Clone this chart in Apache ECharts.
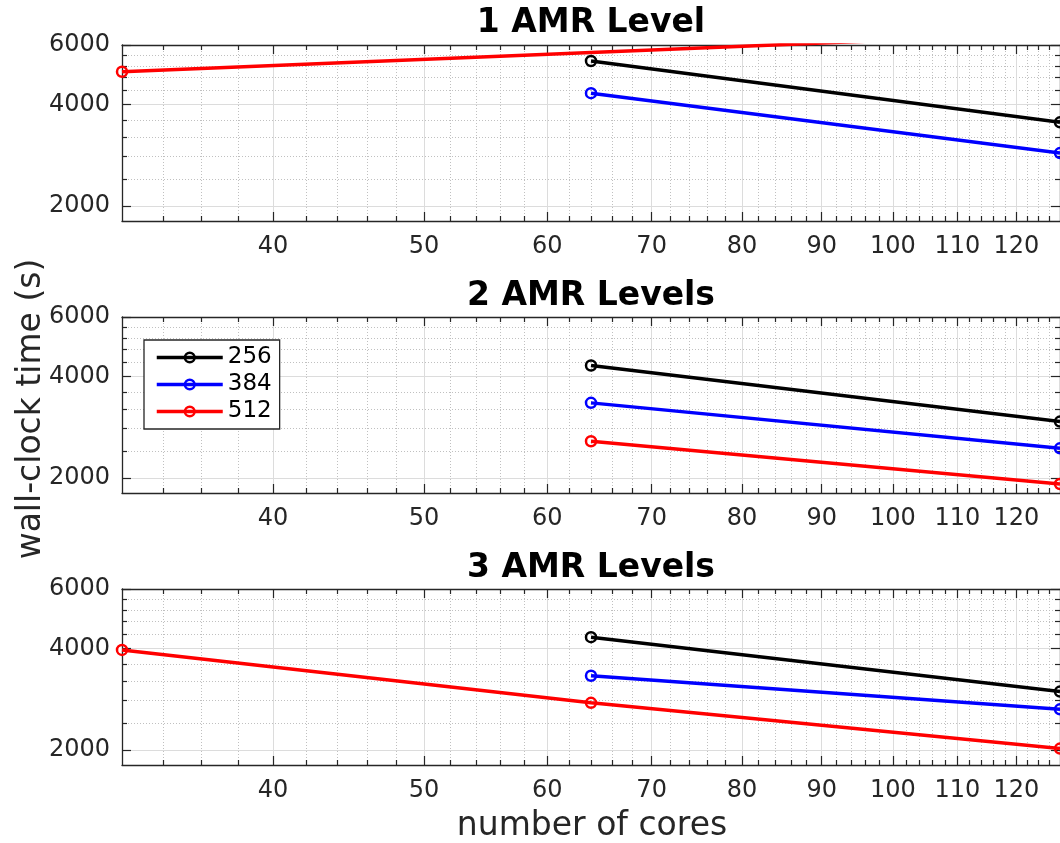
<!DOCTYPE html>
<html>
<head>
<meta charset="utf-8">
<title>wall-clock time vs number of cores</title>
<script src="https://cdn.jsdelivr.net/npm/echarts@6/dist/echarts.min.js"></script>
<style>
  html, body { margin: 0; padding: 0; background: #fff; }
  #chart { width: 1060px; height: 843px; }
</style>
</head>
<body>
<div id="chart"></div>
<script>
  // x: number of cores, one line per mesh size
  const cores = [32, 64, 128]
  const meshes = ['256', '384', '512']
  const panelTitles = ['1 AMR Level', '2 AMR Levels', '3 AMR Levels']

  // wall-clock time (s) per core count, null = no run
  const level1_256 = [null, 5380, 3540]
  const level1_384 = [null, 4320, 2870]
  const level1_512 = [5000, null, 6500]

  const level2_256 = [null, 4310, 2940]
  const level2_384 = [null, 3340, 2450]
  const level2_512 = [null, 2570, 1920]

  const level3_256 = [null, 4320, 2980]
  const level3_384 = [null, 3320, 2640]
  const level3_512 = [3960, 2760, 2020]

  // tick values
  const xMajorTicks = [40, 50, 60, 70, 80, 90, 100, 110, 120]
  const xMinorTicks = [34, 36, 38, 42, 44, 46, 48, 52, 54, 56, 58, 62, 64, 66, 68,
    72, 74, 76, 78, 82, 84, 86, 88, 92, 94, 96, 98, 102, 104, 106, 108,
    112, 114, 116, 118, 122, 124, 126]
  const yMajorTicks = [2000, 4000, 6000]
  const yMinorTicks = [2400, 2800, 3200, 3600, 4400, 4800, 5200, 5600]

  const panels = [
    [level1_256, level1_384, level1_512],
    [level2_256, level2_384, level2_512],
    [level3_256, level3_384, level3_512]
  ]
  const colors = ['#000000', '#0000ff', '#ff0000']

  const font = 'DejaVu Sans'
  const axisColor = '#262626'
  const panelTops = [45, 317, 589]
  const titleTops = [7, 280, 552]

  function pairs(values) {
    return cores.map((c, i) => [c, values[i]]).filter(p => p[1] != null)
  }

  function makeAxes(p, dim) {
    const isX = dim === 'x'
    const base = isX
      ? { gridIndex: p, type: 'log', logBase: 10, min: 32, max: 128 }
      : { gridIndex: p, type: 'log', logBase: 10, min: 1806, max: 6000 }
    const major = isX ? xMajorTicks : yMajorTicks
    const minor = isX ? xMinorTicks : yMinorTicks
    const near = isX ? 'bottom' : 'left'
    const far = isX ? 'top' : 'right'
    const line = { show: true, onZero: false, lineStyle: { color: axisColor, width: 1.3 } }
    const noLine = { show: false }
    const tick = (vals, len) => ({
      show: true, inside: true, length: len, customValues: vals,
      lineStyle: { color: axisColor, width: 1.2 }
    })
    const off = { show: false }
    return [
      // ticks + labels + major grid
      Object.assign({}, base, {
        position: near,
        axisLine: line,
        axisTick: tick(major, 9),
        axisLabel: {
          show: true, customValues: major, formatter: v => String(v),
          fontSize: 24, fontFamily: font, color: axisColor, margin: isX ? 14 : 12
        },
        splitLine: { show: true, lineStyle: { color: '#dcdcdc', width: 1 } },
        minorTick: off, minorSplitLine: off
      }),
      // minor grid (dotted)
      Object.assign({}, base, {
        position: near,
        axisLine: noLine,
        axisTick: tick(minor, 5),
        axisLabel: off,
        splitLine: { show: true, lineStyle: { color: '#c0c0c0', width: 1, type: [1, 2] } },
        minorTick: off, minorSplitLine: off
      }),
      // box on the other side
      Object.assign({}, base, {
        position: far,
        axisLine: line,
        axisTick: tick(major, 9),
        axisLabel: off, splitLine: off, minorTick: off, minorSplitLine: off
      }),
      Object.assign({}, base, {
        position: far,
        axisLine: noLine,
        axisTick: tick(minor, 5),
        axisLabel: off, splitLine: off, minorTick: off, minorSplitLine: off
      })
    ]
  }

  const grids = []
  const titles = []
  const xAxes = []
  const yAxes = []
  const series = []

  panels.forEach((panel, p) => {
    grids.push({ left: 122, top: panelTops[p], width: 939, height: 176 })
    titles.push({
      text: panelTitles[p], left: 591, top: titleTops[p], textAlign: 'center', padding: 0,
      textStyle: { fontSize: 33, fontWeight: 'bold', fontFamily: font, color: '#000' }
    })
    xAxes.push(...makeAxes(p, 'x'))
    yAxes.push(...makeAxes(p, 'y'))
    panel.forEach((values, m) => {
      series.push({
        type: 'line',
        name: meshes[m],
        xAxisIndex: p * 4,
        yAxisIndex: p * 4,
        data: pairs(values),
        symbol: 'circle',
        symbolSize: 10,
        showSymbol: true,
        clip: true,
        lineStyle: { color: colors[m], width: 3.5 },
        itemStyle: { color: 'rgba(255,255,255,0)', borderColor: colors[m], borderWidth: 2.5 },
        emphasis: { disabled: true }
      })
    })
  })

  const chart = echarts.init(document.getElementById('chart'))
  chart.setOption({
    animation: false,
    backgroundColor: '#fff',
    title: titles,
    grid: grids,
    xAxis: xAxes,
    yAxis: yAxes,
    legend: {
      data: meshes,
      orient: 'vertical',
      left: 144,
      top: 340,
      padding: [6, 8, 6, 11],
      itemGap: 4,
      itemWidth: 66,
      itemHeight: 12,
      borderColor: axisColor,
      borderWidth: 1.3,
      backgroundColor: '#fff',
      lineStyle: { width: 3.5 },
      itemStyle: { borderWidth: 2.5 },
      textStyle: { fontSize: 23, lineHeight: 23, fontFamily: font, color: '#000' }
    },
    graphic: [
      {
        type: 'text', x: 31, y: 409, rotation: Math.PI / 2,
        style: {
          text: 'wall-clock time (s)', fontSize: 33, fontFamily: font, fill: axisColor,
          textAlign: 'center', textVerticalAlign: 'middle'
        }
      },
      {
        type: 'text', x: 592, y: 826,
        style: {
          text: 'number of cores', fontSize: 33, fontFamily: font, fill: axisColor,
          textAlign: 'center', textVerticalAlign: 'middle'
        }
      }
    ],
    series: series
  })
</script>
</body>
</html>
